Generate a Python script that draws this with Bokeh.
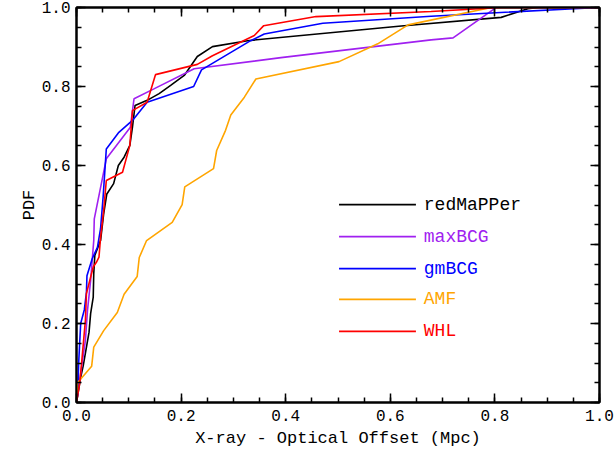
from bokeh.plotting import figure
from bokeh.models import Range1d, LinearAxis, SingleIntervalTicker, NumeralTickFormatter, CustomJSTickFormatter
from bokeh.core.properties import value
from bokeh.embed import file_html
from bokeh.resources import INLINE

# ---- data ----
red_x = [0.0, 0.008, 0.013, 0.024, 0.027, 0.032, 0.033, 0.035, 0.046, 0.052, 0.058, 0.071, 0.080, 0.091,
         0.102, 0.107, 0.112, 0.135, 0.158, 0.180, 0.206, 0.231, 0.260, 0.327, 0.621, 0.812, 0.863, 0.883, 1.0]
red_y = [0.0, 0.064, 0.094, 0.178, 0.225, 0.267, 0.327, 0.372, 0.410, 0.478, 0.528, 0.554, 0.600, 0.621,
         0.651, 0.697, 0.752, 0.765, 0.782, 0.803, 0.828, 0.876, 0.901, 0.916, 0.953, 0.975, 0.997, 1.0, 1.0]

max_x = [0.0, 0.008, 0.017, 0.021, 0.027, 0.033, 0.034, 0.057, 0.103, 0.110, 0.148, 0.225, 0.391, 0.678,
         0.720, 0.796, 0.803, 1.0]
max_y = [0.0, 0.073, 0.157, 0.233, 0.309, 0.410, 0.465, 0.617, 0.697, 0.769, 0.794, 0.845, 0.873, 0.918,
         0.923, 0.994, 1.0, 1.0]

gm_x = [0.0, 0.0025, 0.004, 0.008, 0.015, 0.019, 0.020, 0.030, 0.040, 0.046, 0.051, 0.057, 0.081, 0.107,
        0.135, 0.224, 0.239, 0.333, 0.359, 0.471, 0.678, 0.952, 1.0]
gm_y = [0.0, 0.023, 0.096, 0.200, 0.235, 0.279, 0.321, 0.364, 0.393, 0.440, 0.522, 0.642, 0.684, 0.714,
        0.760, 0.800, 0.842, 0.916, 0.933, 0.960, 0.978, 0.997, 1.0]

amf_x = [0.0, 0.002, 0.029, 0.033, 0.052, 0.078, 0.091, 0.116, 0.120, 0.134, 0.183, 0.202, 0.207, 0.262,
         0.268, 0.285, 0.295, 0.321, 0.343, 0.502, 0.576, 0.634, 0.793, 1.0]
amf_y = [0.0, 0.050, 0.092, 0.140, 0.182, 0.228, 0.274, 0.319, 0.367, 0.410, 0.456, 0.501, 0.546, 0.592,
         0.638, 0.689, 0.728, 0.773, 0.819, 0.863, 0.908, 0.956, 1.0, 1.0]

whl_x = [0.0, 0.006, 0.009, 0.017, 0.019, 0.032, 0.038, 0.043, 0.046, 0.052, 0.057, 0.088, 0.102, 0.107,
         0.135, 0.151, 0.231, 0.260, 0.340, 0.358, 0.458, 0.678, 0.812, 1.0]
whl_y = [0.0, 0.048, 0.089, 0.208, 0.276, 0.343, 0.355, 0.368, 0.418, 0.486, 0.562, 0.583, 0.651, 0.739,
         0.760, 0.830, 0.856, 0.878, 0.929, 0.954, 0.977, 0.990, 1.0, 1.0]

names = ["redMaPPer", "maxBCG", "gmBCG", "AMF", "WHL"]
colors = ["black", "#A020F0", "#0000FF", "#FFA500", "#FF0000"]
series_x = [red_x, max_x, gm_x, amf_x, whl_x]
series_y = [red_y, max_y, gm_y, amf_y, whl_y]

FONT = "Liberation Mono"

p = figure(width=615, height=454, output_backend="svg", toolbar_location=None,
           x_range=Range1d(0, 1), y_range=Range1d(0, 1),
           min_border_left=76, min_border_right=16, min_border_top=7, min_border_bottom=52)
p.grid.visible = False
p.outline_line_color = "black"
p.outline_line_width = 2
p.background_fill_color = "white"
p.border_fill_color = "white"

for xs, ys, c in zip(series_x, series_y, colors):
    p.line(xs, ys, line_color=c, line_width=1.6)

# legend drawn manually (per-entry coloured text)
leg_y = [0.501, 0.420, 0.339, 0.261, 0.180]
for n, c, yy in zip(names, colors, leg_y):
    p.line([0.502, 0.649], [yy, yy], line_color=c, line_width=1.6)
    p.text([0.664], [yy], text=[n], text_color=c, text_font=value(FONT), text_font_size="18px",
           text_baseline="middle", text_align="left")

def style_axis(ax, labels=True):
    ax.ticker = SingleIntervalTicker(interval=0.2, num_minor_ticks=4)
    ax.axis_line_width = 2
    ax.axis_line_color = "black"
    ax.major_tick_in = 9
    ax.major_tick_out = 0
    ax.minor_tick_in = 5
    ax.minor_tick_out = 0
    ax.major_tick_line_width = 1.5
    ax.minor_tick_line_width = 1.5
    ax.major_tick_line_color = "black"
    ax.minor_tick_line_color = "black"
    if labels:
        ax.formatter = NumeralTickFormatter(format="0.0")
        ax.major_label_text_font = FONT
        ax.major_label_text_font_size = "16px"
        ax.major_label_text_color = "black"
        ax.axis_label_text_font = FONT
        ax.axis_label_text_font_size = "17px"
        ax.axis_label_text_font_style = "normal"
        ax.axis_label_text_color = "black"
    else:
        ax.formatter = CustomJSTickFormatter(code="return ''")
        ax.major_label_standoff = 0

style_axis(p.xaxis[0])
style_axis(p.yaxis[0])
p.xaxis[0].axis_label = "X-ray - Optical Offset (Mpc)"
p.yaxis[0].axis_label = "PDF"
p.xaxis[0].major_label_standoff = 7
p.xaxis[0].axis_label_standoff = 5
p.yaxis[0].major_label_standoff = 6
p.yaxis[0].axis_label_standoff = 0

top = LinearAxis()
right = LinearAxis()
style_axis(top, labels=False)
style_axis(right, labels=False)
p.add_layout(top, "above")
p.add_layout(right, "right")

open("out.html", "w").write(file_html(p, INLINE))
